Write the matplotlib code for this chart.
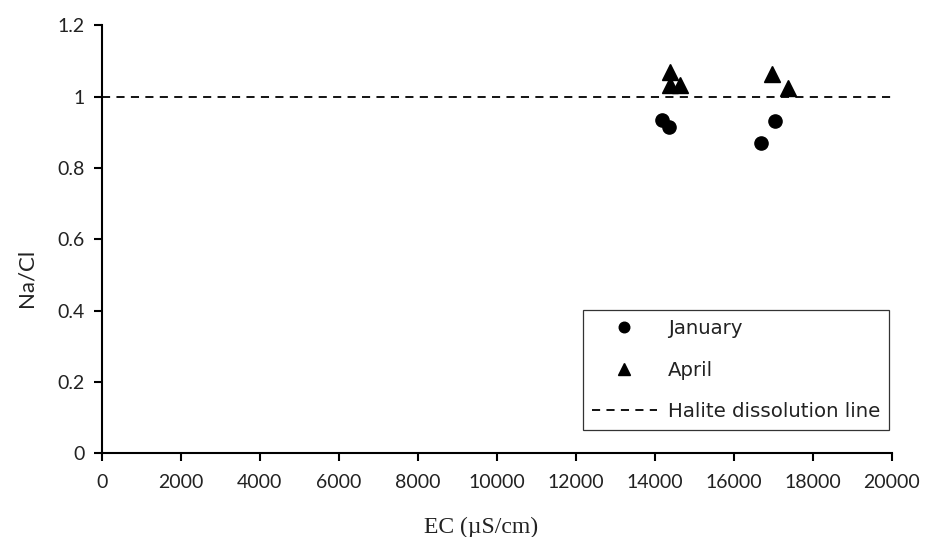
import matplotlib
matplotlib.use("Agg")
import matplotlib.pyplot as plt

# Electrical conductivity (µS/cm) and Na/Cl molar ratio per sampling campaign
ec_january = [14180, 14350, 16690, 17050]
nacl_january = [0.935, 0.915, 0.870, 0.932]

ec_april = [14380, 14390, 14640, 16980, 17370]
nacl_april = [1.068, 1.032, 1.032, 1.065, 1.025]

halite_ratio = 1.0

x_ticks = list(range(0, 20001, 2000))
y_ticks = [0, 0.2, 0.4, 0.6, 0.8, 1.0, 1.2]
y_tick_labels = ["0", "0.2", "0.4", "0.6", "0.8", "1", "1.2"]

fig = plt.figure(figsize=(9.35, 5.37), dpi=100)
ax = fig.add_axes([0.1088, 0.1559, 0.9537 - 0.1088, 0.9527 - 0.1559])

ax.plot(ec_january, nacl_january, linestyle="none", marker="o", ms=9.5,
        color="black", label="January", zorder=3)
ax.plot(ec_april, nacl_april, linestyle="none", marker="^", ms=11.5,
        color="black", label="April", zorder=3)
ax.axhline(halite_ratio, color="black", lw=1.3, linestyle=(0, (4.5, 3.5)),
           label="Halite dissolution line", zorder=2)

ax.set_xlim(0, 20000)
ax.set_ylim(0, 1.2)
ax.set_xticks(x_ticks)
ax.set_xticklabels([str(v) for v in x_ticks])
ax.set_yticks(y_ticks)
ax.set_yticklabels(y_tick_labels)

for side in ("top", "right"):
    ax.spines[side].set_visible(False)
for side in ("left", "bottom"):
    ax.spines[side].set_linewidth(1.5)
    ax.spines[side].set_color("black")

tick_font = "Lato"
ax.tick_params(axis="both", direction="out", length=6, width=1.5,
               color="black", labelsize=14, labelcolor="#222222")
ax.tick_params(axis="x", pad=9)
ax.tick_params(axis="y", pad=6)
for lbl in ax.get_xticklabels() + ax.get_yticklabels():
    lbl.set_fontfamily(tick_font)

ax.set_ylabel("Na/Cl", fontsize=16, fontfamily="Lato", color="#222222")
ax.yaxis.set_label_coords(-0.082, 0.41)
ax.set_xlabel("EC (µS/cm)", fontsize=17, fontfamily="Liberation Serif",
              color="#222222")
ax.xaxis.set_label_coords(0.48, -0.148)

leg = ax.legend(loc="upper left", bbox_to_anchor=(583 / 935, 1 - 310 / 537),
                bbox_transform=fig.transFigure, borderaxespad=0,
                frameon=True, fancybox=False, edgecolor="black",
                prop={"family": "DejaVu Sans", "size": 14.2},
                handlelength=3.3, labelspacing=1.15, borderpad=0.45,
                handletextpad=0.55, markerscale=0.8)
leg.get_frame().set_linewidth(0.9)
for txt in leg.get_texts():
    txt.set_color("#222222")

fig.savefig("out.png", dpi=100)
